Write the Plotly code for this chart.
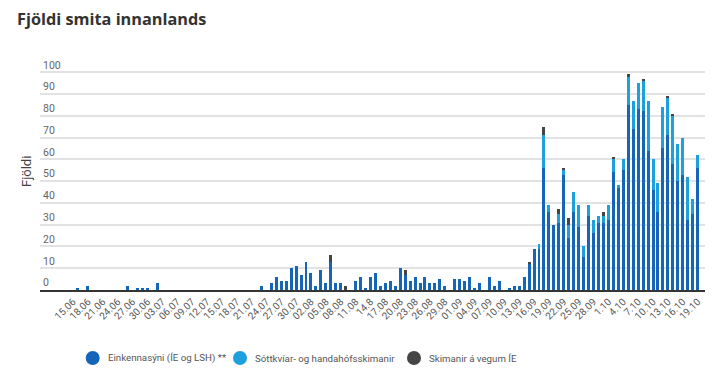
import pandas as pd
import plotly.graph_objects as go

# Daily domestic infections, 15.06 - 19.10
dates = pd.date_range("2020-06-15", "2020-10-19", freq="D")

einkennasyni = [
    0, 1, 0, 2, 0, 0, 0, 0, 0, 0, 0, 2, 0, 1, 1, 1, 0, 3, 0, 0,
    0, 0, 0, 0, 0, 0, 0, 0, 0, 0, 0, 0, 0, 0, 0, 0, 0, 0, 2, 0,
    3, 6, 4, 4, 10, 11, 7, 13, 8, 2, 9, 3, 13, 3, 3, 0, 0, 4, 6, 1,
    6, 8, 2, 3, 4, 2, 10, 7, 4, 6, 3, 6, 3, 3, 5, 2, 0, 5, 5, 4,
    6, 1, 3, 0, 6, 2, 4, 0, 1, 2, 2, 6, 12, 19, 19, 56, 36, 30, 31, 53,
    24, 36, 29, 15, 34, 26, 31, 31, 32, 54, 47, 55, 85, 74, 83, 82, 64, 46, 36, 65,
    71, 58, 50, 53, 32, 35, 56,
]
sottkviar = [
    0, 0, 0, 0, 0, 0, 0, 0, 0, 0, 0, 0, 0, 0, 0, 0, 0, 0, 0, 0,
    0, 0, 0, 0, 0, 0, 0, 0, 0, 0, 0, 0, 0, 0, 0, 0, 0, 0, 0, 0,
    0, 0, 0, 0, 0, 0, 0, 0, 0, 0, 0, 0, 0, 0, 0, 0, 0, 0, 0, 0,
    0, 0, 0, 0, 0, 0, 0, 0, 0, 0, 0, 0, 0, 0, 0, 0, 0, 0, 0, 0,
    0, 0, 0, 0, 0, 0, 0, 0, 0, 0, 0, 0, 0, 0, 2, 15, 3, 0, 4, 2,
    6, 9, 10, 5, 5, 6, 3, 3, 7, 6, 1, 5, 13, 13, 12, 14, 23, 14, 13, 19,
    17, 22, 17, 17, 20, 7, 6,
]
skimanir_ie = [
    0, 0, 0, 0, 0, 0, 0, 0, 0, 0, 0, 0, 0, 0, 0, 0, 0, 0, 0, 0,
    0, 0, 0, 0, 0, 0, 0, 0, 0, 0, 0, 0, 0, 0, 0, 0, 0, 0, 0, 0,
    0, 0, 0, 0, 0, 0, 0, 0, 0, 0, 0, 0, 3, 0, 0, 2, 0, 0, 0, 0,
    0, 0, 0, 0, 0, 0, 0, 2, 0, 0, 0, 0, 0, 0, 0, 0, 0, 0, 0, 0,
    0, 0, 0, 0, 0, 0, 0, 0, 0, 0, 0, 0, 1, 0, 0, 4, 0, 0, 2, 1,
    3, 0, 0, 0, 0, 0, 0, 2, 0, 1, 0, 0, 1, 0, 0, 1, 0, 0, 0, 0,
    1, 1, 0, 0, 0, 0, 0,
]

tick_labels = [
    "15.06", "18.06", "21.06", "24.06", "27.06", "30.06", "03.07", "06.07",
    "09.07", "12.07", "15.07", "18.07", "21.07", "24.07", "27.07", "30.07",
    "02.08", "05.08", "08.08", "11.08", "14.8", "17.08", "20.08", "23.08",
    "26.08", "29.08", "01.09", "04.09", "07.09", "10.09", "13.09", "16.09",
    "19.09", "22.09", "25.09", "28.09", "1.10", "4.10", "7.10", "10.10",
    "13.10", "16.10", "19.10",
]
tick_dates = dates[::3]

series_names = ["Einkennasýni (ÍE og LSH) **", "Sóttkvíar- og handahófsskimanir", "Skimanir á vegum ÍE"]
colors = ["#1565b8", "#1ea0de", "#454545"]

# layout geometry (figure pixels; page adds an 8px body margin)
L, R, T, B = 32, 8, 49, 88
W, H = 713, 370
plot_w = W - L - R
plot_h = H - T - B


def px_x(px):
    return (px - L) / plot_w


def px_y(py):
    return (H - B - py) / plot_h


fig = go.Figure()
for name, vals, col in zip(series_names, [einkennasyni, sottkviar, skimanir_ie], colors):
    fig.add_trace(go.Bar(x=dates, y=vals, name=name, marker=dict(color=col, line=dict(width=0)),
                         showlegend=False))

# legend drawn as circle shapes + text
legend_dot_px = [84.7, 232, 406]
legend_y = px_y(350)
shapes = []
annotations = []
for name, col, dx in zip(series_names, colors, legend_dot_px):
    shapes.append(dict(type="circle", xref="paper", yref="paper", xsizemode="pixel", ysizemode="pixel",
                       xanchor=px_x(dx), yanchor=legend_y, x0=-7, x1=7, y0=-7, y1=7,
                       fillcolor=col, line=dict(width=0)))
    annotations.append(dict(text=name, xref="paper", yref="paper", x=px_x(dx + 13), y=legend_y,
                            xanchor="left", yanchor="middle", showarrow=False,
                            font=dict(family="Roboto, sans-serif", size=9.7, color="#555")))
annotations.append(dict(text="Fjöldi", textangle=-90, xref="paper", yref="paper",
                        x=px_x(18), y=px_y(164), xanchor="center", yanchor="middle",
                        showarrow=False, font=dict(family="Roboto, sans-serif", size=13, color="#444")))

x_left = dates[0] - pd.Timedelta(days=6.66)
x_right = dates[-1] + pd.Timedelta(days=3.1)

fig.update_layout(
    width=W, height=H,
    margin=dict(l=L, r=R, t=T, b=B, autoexpand=False),
    paper_bgcolor="white", plot_bgcolor="white",
    barmode="stack", bargap=0.4, showlegend=False,
    font=dict(family="Roboto, sans-serif", color="#555"),
    title=dict(text="<b>Fjöldi smita innanlands</b>", x=9 / W, xanchor="left", xref="container",
               y=1 - 6 / H, yanchor="top", yref="container", pad=dict(t=0, b=0, l=0, r=0),
               font=dict(family="Open Sans, sans-serif", size=16.3, color="#333")),
    xaxis=dict(type="date", range=[x_left, x_right], tickvals=tick_dates, ticktext=tick_labels,
               tickangle=-45, tickfont=dict(size=10, color="#555"), showgrid=False,
               showline=True, linecolor="#333", linewidth=2, ticks="", zeroline=False,
               automargin=False),
    yaxis=dict(range=[0, 107], tickvals=list(range(0, 101, 10)), showgrid=True,
               gridcolor="#e2e2e2", gridwidth=1.5, zeroline=False, automargin=False,
               ticklabelposition="inside top",
               tickfont=dict(size=10.5, color="#666"), ticks=""),
    shapes=shapes,
    annotations=annotations,
)

fig.write_html("out.html")
